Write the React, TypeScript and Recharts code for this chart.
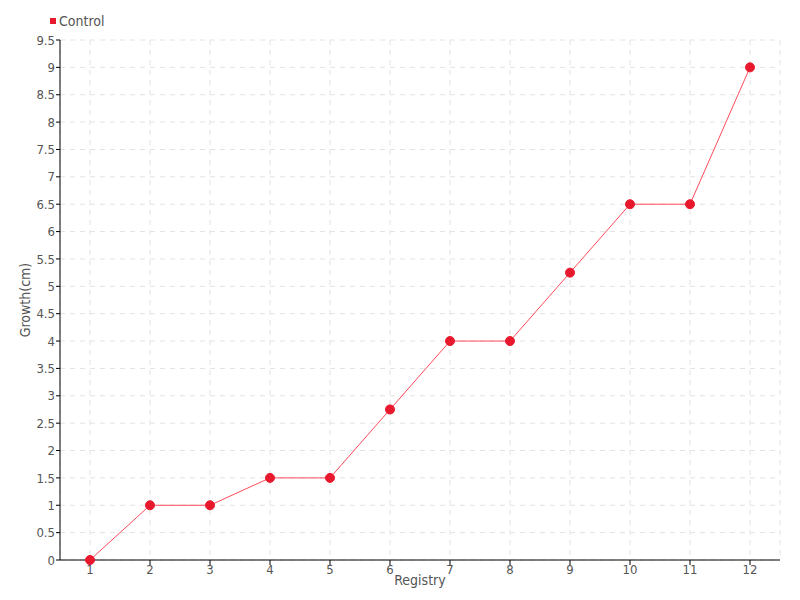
import { LineChart, Line, XAxis, YAxis, CartesianGrid, Legend } from 'recharts'

const registry = ['1', '2', '3', '4', '5', '6', '7', '8', '9', '10', '11', '12']
const control = [0, 1, 1, 1.5, 1.5, 2.75, 4, 4, 5.25, 6.5, 6.5, 9]
const yTicks = [0, 0.5, 1, 1.5, 2, 2.5, 3, 3.5, 4, 4.5, 5, 5.5, 6, 6.5, 7, 7.5, 8, 8.5, 9, 9.5]

const data = registry.map((r, i) => ({ registry: r, control: control[i] }))

const font = '"DejaVu Sans Condensed", "Liberation Sans", sans-serif'
const tickStyle = { fill: '#555', fontSize: 13, fontFamily: font }

const LegendBox = () => (
  <div style={{ display: 'flex', alignItems: 'center', fontFamily: font, fontSize: 14, color: '#555' }}>
    <span style={{ width: 6, height: 6, background: '#e8192c', display: 'inline-block', marginRight: 3 }} />
    Control
  </div>
)

export default function App() {
  return (
    <div style={{ position: 'absolute', left: 0, top: 0, width: 800, height: 600, background: '#fff' }}>
      <LineChart width={800} height={600} data={data} margin={{ top: 40, right: 20, bottom: 0, left: 20 }}>
        <CartesianGrid stroke="#e2e2e2" strokeDasharray="5 5" />
        <XAxis
          dataKey="registry"
          height={40}
          padding={{ left: 30, right: 30 }}
          stroke="#000"
          tick={tickStyle}
          tickLine={{ stroke: '#000' }}
          tickSize={5}
          tickMargin={0}
          label={{ value: 'Registry', position: 'insideTop', offset: 15, style: { fill: '#555', fontSize: 14, fontFamily: font } }}
        />
        <YAxis
          width={40}
          domain={[0, 9.5]}
          ticks={yTicks}
          interval={0}
          stroke="#000"
          tick={tickStyle}
          tickSize={4}
          tickMargin={1}
          label={{ value: 'Growth(cm)', angle: -90, position: 'insideLeft', offset: 5, style: { fill: '#555', fontSize: 14, fontFamily: font, textAnchor: 'middle' } }}
        />
        <Legend verticalAlign="middle" content={<LegendBox />} wrapperStyle={{ top: 13, left: 50, width: 'auto', height: 'auto' }} />
        <Line
          type="linear"
          dataKey="control"
          name="Control"
          stroke="#ff4a5a"
          strokeWidth={1}
          dot={{ r: 4.5, fill: '#e8192c', stroke: '#e8192c', strokeWidth: 1 }}
          isAnimationActive={false}
        />
      </LineChart>
    </div>
  )
}
